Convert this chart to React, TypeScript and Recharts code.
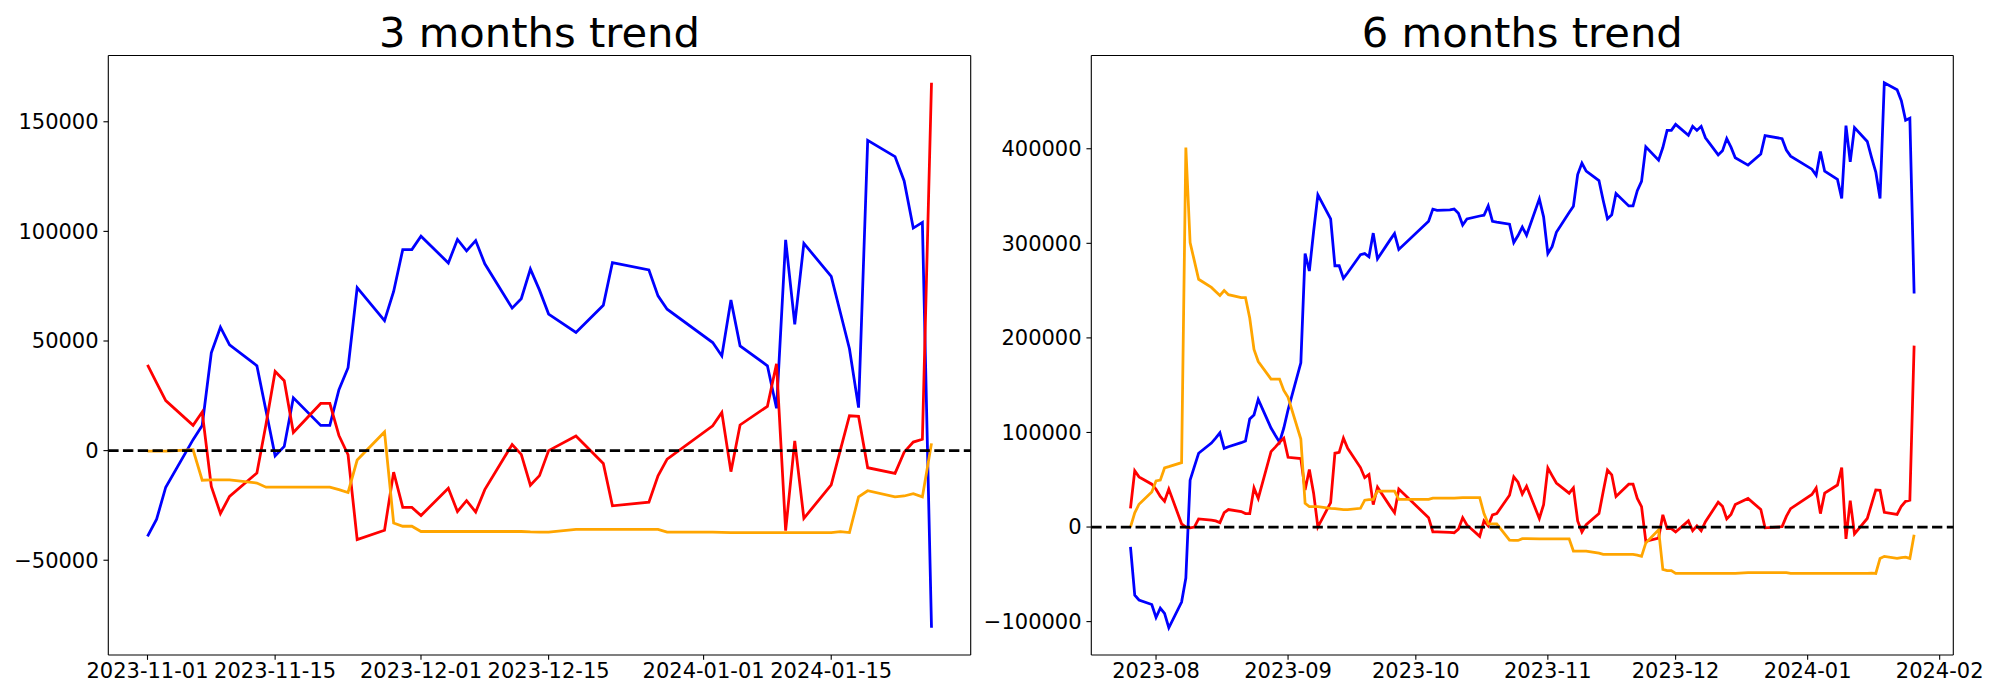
import React from 'react';
import { LineChart, Line, XAxis, YAxis, ReferenceLine } from 'recharts';

// ---------- 3 months trend ----------
const dates3m = [
  '2023-11-01','2023-11-02','2023-11-03','2023-11-06','2023-11-07','2023-11-08','2023-11-09','2023-11-10',
  '2023-11-13','2023-11-14','2023-11-15','2023-11-16','2023-11-17','2023-11-20','2023-11-21','2023-11-22',
  '2023-11-23','2023-11-24','2023-11-27','2023-11-28','2023-11-29','2023-11-30','2023-12-01','2023-12-04',
  '2023-12-05','2023-12-06','2023-12-07','2023-12-08','2023-12-11','2023-12-12','2023-12-13','2023-12-14',
  '2023-12-15','2023-12-18','2023-12-21','2023-12-22','2023-12-26','2023-12-27','2023-12-28','2024-01-02',
  '2024-01-03','2024-01-04','2024-01-05','2024-01-08','2024-01-09','2024-01-10','2024-01-11','2024-01-12',
  '2024-01-15','2024-01-16','2024-01-17','2024-01-18','2024-01-19','2024-01-22','2024-01-23','2024-01-24',
  '2024-01-25','2024-01-26',
];
const blue3m = [
  -39100,-31300,-16700,5000,11500,44600,56300,48200,
  38700,18200,-2400,1900,24100,11500,11500,27800,
  37800,74300,59300,72600,91700,91700,97800,85600,
  96300,91100,95800,85200,65000,69300,82800,73200,
  62300,53900,66300,85800,82400,70600,64500,49300,
  43200,68700,47800,38700,19300,96100,57600,94500,
  79500,63000,46500,19600,141500,134100,123000,101500,
  104100,-80800,
];
const red3m = [
  39100,30900,22800,11500,17600,-16300,-28700,-20900,
  -10200,12000,36100,31900,8300,21500,21500,6900,
  -1900,-40600,-36300,-9800,-25900,-25900,-29600,-17200,
  -27800,-22800,-28000,-17800,2800,-1700,-15800,-11400,
  0,6700,-5900,-25200,-23500,-11500,-3900,11300,
  17400,-9600,11700,20200,39600,-36500,4400,-30900,
  -15600,200,15900,15600,-7800,-10400,-700,3900,
  5200,167800,
];
const orange3m = [
  -200,-200,-200,400,-13500,-13300,-13300,-13300,
  -14800,-16700,-16700,-16700,-16700,-16700,-16700,-17800,
  -19100,-4300,8500,-33000,-34500,-34500,-36900,-36900,
  -36900,-36900,-36900,-36900,-36900,-36900,-37100,-37200,
  -37200,-35900,-35900,-35900,-35900,-35900,-37200,-37200,
  -37300,-37400,-37400,-37400,-37400,-37400,-37400,-37400,
  -37400,-37000,-37400,-21100,-18300,-21100,-20700,-19600,
  -21100,3300,
];
const xTicks3m = ['2023-11-01','2023-11-15','2023-12-01','2023-12-15','2024-01-01','2024-01-15'];
const yTicks3m = [-50000, 0, 50000, 100000, 150000];

// ---------- 6 months trend ----------
const dates6m = [
  '2023-07-26','2023-07-27','2023-07-28','2023-07-31','2023-08-01','2023-08-02','2023-08-03','2023-08-04',
  '2023-08-07','2023-08-08','2023-08-09','2023-08-10','2023-08-11','2023-08-14','2023-08-15','2023-08-16',
  '2023-08-17','2023-08-18','2023-08-21','2023-08-22','2023-08-23','2023-08-24','2023-08-25','2023-08-28',
  '2023-08-29','2023-08-30','2023-08-31','2023-09-01','2023-09-04','2023-09-05','2023-09-06','2023-09-07',
  '2023-09-08','2023-09-11','2023-09-12','2023-09-13','2023-09-14','2023-09-15','2023-09-18','2023-09-19',
  '2023-09-20','2023-09-21','2023-09-22','2023-09-25','2023-09-26','2023-09-27','2023-10-04','2023-10-05',
  '2023-10-06','2023-10-09','2023-10-10','2023-10-11','2023-10-12','2023-10-13','2023-10-16','2023-10-17',
  '2023-10-18','2023-10-19','2023-10-20','2023-10-23','2023-10-24','2023-10-25','2023-10-26','2023-10-27',
  '2023-10-30','2023-10-31','2023-11-01','2023-11-02','2023-11-03','2023-11-06','2023-11-07','2023-11-08',
  '2023-11-09','2023-11-10','2023-11-13','2023-11-14','2023-11-15','2023-11-16','2023-11-17','2023-11-20',
  '2023-11-21','2023-11-22','2023-11-23','2023-11-24','2023-11-27','2023-11-28','2023-11-29','2023-11-30',
  '2023-12-01','2023-12-04','2023-12-05','2023-12-06','2023-12-07','2023-12-08','2023-12-11','2023-12-12',
  '2023-12-13','2023-12-14','2023-12-15','2023-12-18','2023-12-21','2023-12-22','2023-12-26','2023-12-27',
  '2023-12-28','2024-01-02','2024-01-03','2024-01-04','2024-01-05','2024-01-08','2024-01-09','2024-01-10',
  '2024-01-11','2024-01-12','2024-01-15','2024-01-16','2024-01-17','2024-01-18','2024-01-19','2024-01-22',
  '2024-01-23','2024-01-24','2024-01-25','2024-01-26',
];
const blue6m = [
  -21100,-72000,-77100,-81900,-95700,-85800,-91400,-106500,
  -79300,-53900,49600,63800,78000,88800,94000,99600,
  83200,84900,89200,90900,114200,118500,134900,104700,
  97000,89700,104700,124000,173700,289200,270700,312500,
  351300,325800,276300,276300,262900,268900,287900,289200,
  285800,310800,283600,303900,310300,293500,323300,336200,
  334900,335300,336200,331900,319400,325800,328900,329700,
  339600,323300,322400,320200,300800,308200,317200,308600,
  347000,328000,289200,296500,311600,332700,339200,372800,
  384900,376300,366400,345200,325800,330100,352600,339600,
  339600,355600,365500,402100,387900,401300,419400,419400,
  425800,414200,423700,419400,423700,411600,393500,397800,
  410700,401700,390500,382700,394400,413800,410700,398700,
  392200,378400,372000,397000,376300,367600,347400,424500,
  386200,422400,407700,390900,375400,347400,469800,462500,
  450800,430100,432300,247000,
];
const red6m = [
  19800,59500,53000,45300,40000,32300,27200,40100,
  3400,0,-900,0,8600,7300,6500,4700,
  15100,18500,16400,14200,14200,41400,30200,79700,
  84500,89600,94000,73700,72400,39200,60800,35800,
  0,25900,78000,78900,94000,83200,62900,52200,
  55600,23700,42200,21600,15100,40100,9900,-5200,
  -5200,-5600,-6000,-2200,9900,2200,-9900,6500,
  1300,12900,14200,33600,53000,47400,34900,43100,
  9050,23700,62500,54300,46500,35800,41400,6500,
  -5200,2600,14200,37500,60300,55200,32300,45300,
  45300,30200,21600,-15100,-11600,12900,-1700,-1700,
  -5200,6500,-3900,1300,-3900,5600,26300,22000,
  8600,13400,23700,30200,18500,-900,400,11200,
  19400,34500,41400,14200,35800,44400,62900,-12500,
  28000,-7300,9050,24100,39200,38800,15500,13400,
  22000,27200,28400,191800,
];
const orange6m = [
  0,15000,24100,37100,48700,49600,62500,63800,
  68100,401300,300800,281400,262000,253400,249100,244800,
  250000,245700,242700,242700,221100,187900,175000,156500,
  156500,156500,144400,137100,93100,25000,21600,21600,
  21600,19800,19400,18900,18500,18500,19800,28400,
  28900,29300,37900,37900,37900,29300,29300,30600,
  30600,30600,30600,30800,31000,31000,31000,14200,
  3400,3400,3400,-13800,-14200,-14200,-12300,-12300,
  -12500,-12500,-12500,-12500,-12500,-12500,-25400,-25400,
  -25400,-25400,-27600,-28900,-28900,-28900,-28900,-28900,
  -28900,-29700,-31000,-16800,-3000,-44800,-46100,-46100,
  -49100,-49100,-49100,-49100,-49100,-49100,-49100,-49100,
  -49100,-49100,-49100,-48300,-48300,-48300,-48300,-48300,
  -49100,-49100,-49100,-49100,-49100,-49100,-49100,-49100,
  -49100,-49100,-49100,-48800,-49100,-33200,-31000,-33200,
  -32300,-31900,-33200,-8200,
];
const xTicks6m = ['2023-08-01','2023-09-01','2023-10-01','2023-11-01','2023-12-01','2024-01-01','2024-02-01'];
const yTicks6m = [-100000, 0, 100000, 200000, 300000, 400000];

// ---------- helpers ----------
const toDay = (s: string) => {
  const [y, m, d] = s.split('-').map(Number);
  return Date.UTC(y, m - 1, d) / 86400000;
};
const fromDay = (t: number) => new Date(Math.round(t) * 86400000).toISOString().slice(0, 10);
const padDomain = (lo: number, hi: number): [number, number] => {
  const r = hi - lo;
  return [lo - 0.05 * r, hi + 0.05 * r];
};
const fmtY = (v: number) => (v < 0 ? '\u2212' + String(Math.abs(v)) : String(v));

const FONT = 'DejaVu Sans, sans-serif';
const TICK_FS = 21;
const LW = 2.78;

type PanelProps = {
  left: number;
  width: number;
  marginLeft: number;
  marginRight: number;
  yAxisWidth: number;
  dates: string[];
  blue: number[];
  red: number[];
  orange: number[];
  xTicks: string[];
  xFmt: (s: string) => string;
  yTicks: number[];
};

function Panel(p: PanelProps) {
  const data = p.dates.map((d, i) => ({ t: toDay(d), blue: p.blue[i], red: p.red[i], orange: p.orange[i] }));
  const ts = data.map((r) => r.t);
  const xDomain = padDomain(Math.min(...ts), Math.max(...ts));
  const allY = [...p.blue, ...p.red, ...p.orange];
  const yDomain = padDomain(Math.min(...allY), Math.max(...allY));
  const xTickVals = p.xTicks.map(toDay);
  const tickStyle = { fontFamily: FONT, fontSize: TICK_FS, fill: '#000' };
  const axisLine = { stroke: '#000', strokeWidth: 1.1 };
  return (
    <div style={{ position: 'absolute', left: p.left, top: 0 }}>
      <LineChart
        width={p.width}
        height={700}
        data={data}
        margin={{ top: 55.5, right: p.marginRight, bottom: 5, left: p.marginLeft }}
      >
        <XAxis
          dataKey="t"
          type="number"
          domain={xDomain}
          allowDataOverflow
          ticks={xTickVals}
          interval={0}
          tickFormatter={(v: number) => p.xFmt(fromDay(v))}
          height={40}
          tick={tickStyle}
          tickSize={4.86}
          tickMargin={3}
          tickLine={axisLine}
          axisLine={axisLine}
        />
        <YAxis
          type="number"
          domain={yDomain}
          allowDataOverflow
          ticks={p.yTicks}
          interval={0}
          tickFormatter={fmtY}
          width={p.yAxisWidth}
          tick={tickStyle}
          tickSize={4.86}
          tickMargin={4.86}
          tickLine={axisLine}
          axisLine={axisLine}
        />
        <Line type="linear" dataKey="blue" stroke="#0000ff" strokeWidth={LW} dot={false} isAnimationActive={false} />
        <Line type="linear" dataKey="red" stroke="#ff0000" strokeWidth={LW} dot={false} isAnimationActive={false} />
        <Line type="linear" dataKey="orange" stroke="#ffa500" strokeWidth={LW} dot={false} isAnimationActive={false} />
        <ReferenceLine y={0} stroke="#000" strokeWidth={LW} strokeDasharray="10.3 4.45" />
        <ReferenceLine y={yDomain[1]} stroke="#000" strokeWidth={1.1} ifOverflow="visible" />
        <ReferenceLine x={xDomain[1]} stroke="#000" strokeWidth={1.1} ifOverflow="visible" />
      </LineChart>
    </div>
  );
}

export default function App() {
  return (
    <div style={{ position: 'absolute', left: 0, top: 0, width: 2000, height: 700, background: '#fff', overflow: 'hidden' }}>
      <svg width={2000} height={70} style={{ position: 'absolute', left: 0, top: 0 }}>
        <text x={539.5} y={46.5} textAnchor="middle" fontFamily={FONT} fontSize={41.67} fill="#000">
          3 months trend
        </text>
        <text x={1522.3} y={46.5} textAnchor="middle" fontFamily={FONT} fontSize={41.67} fill="#000">
          6 months trend
        </text>
      </svg>
      <Panel
        left={0}
        width={1000}
        marginLeft={8.3}
        marginRight={29.3}
        yAxisWidth={100}
        dates={dates3m}
        blue={blue3m}
        red={red3m}
        orange={orange3m}
        xTicks={xTicks3m}
        xFmt={(s) => s}
        yTicks={yTicks3m}
      />
      <Panel
        left={980}
        width={1020}
        marginLeft={16.3}
        marginRight={46.7}
        yAxisWidth={95}
        dates={dates6m}
        blue={blue6m}
        red={red6m}
        orange={orange6m}
        xTicks={xTicks6m}
        xFmt={(s) => s.slice(0, 7)}
        yTicks={yTicks6m}
      />
    </div>
  );
}
